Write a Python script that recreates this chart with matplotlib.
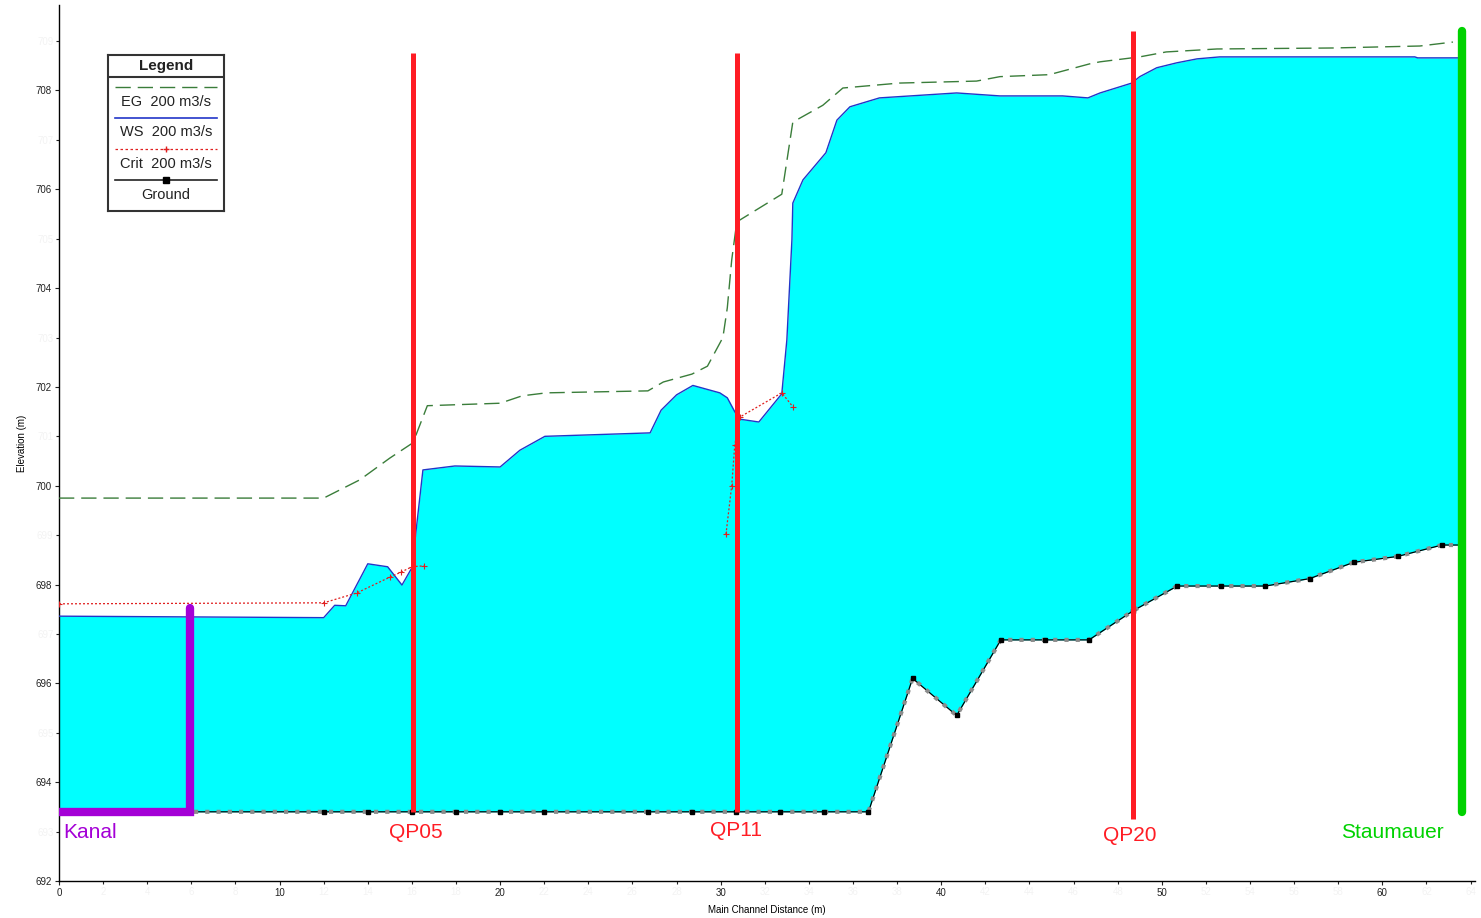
import numpy as np
import matplotlib
matplotlib.use("Agg")
import matplotlib.pyplot as plt
from matplotlib.ticker import MultipleLocator, FormatStrFormatter

plt.rcParams['font.family'] = ['Liberation Sans', 'DejaVu Sans']

# ---------------- data ----------------
ws_x = [0, 12.0, 12.5, 13.0, 14.0, 14.9, 15.55, 16.0, 16.5, 17.95, 20.0, 20.9, 22.03,
        26.8, 27.3, 28.0, 28.74, 29.96, 30.3, 30.6, 30.83, 31.73, 32.77, 33.0, 33.23,
        33.27, 33.73, 34.77, 35.27, 35.86, 37.2, 40.7, 42.66, 45.5, 46.65, 47.2, 48.64,
        49.0, 49.77, 50.68, 51.6, 52.63, 61.47, 61.6, 63.65]
ws_y = [697.36, 697.33, 697.58, 697.57, 698.42, 698.36, 697.99, 698.34, 700.32, 700.40,
        700.38, 700.72, 701.0, 701.07, 701.53, 701.84, 702.03, 701.88, 701.78, 701.53,
        701.35, 701.29, 701.86, 702.95, 704.98, 705.72, 706.19, 706.74, 707.40, 707.67,
        707.85, 707.95, 707.89, 707.89, 707.85, 707.95, 708.15, 708.28, 708.46, 708.56,
        708.64, 708.68, 708.68, 708.66, 708.66]

eg_x = [0, 12.0, 13.64, 15.0, 16.05, 16.7, 20.0, 21.0, 22.1, 26.7, 27.4, 28.7, 29.4,
        30.1, 30.3, 30.5, 30.73, 32.77, 33.27, 34.63, 35.54, 38.1, 41.6, 42.66, 44.9,
        46.74, 47.2, 49.0, 50.2, 52.5, 57.75, 61.7, 63.2]
eg_y = [699.75, 699.75, 700.12, 700.56, 700.87, 701.62, 701.67, 701.82, 701.88, 701.92,
        702.10, 702.26, 702.42, 703.0, 703.6, 704.57, 705.34, 705.9, 707.36, 707.7,
        708.05, 708.15, 708.19, 708.28, 708.32, 708.54, 708.58, 708.68, 708.78, 708.84,
        708.86, 708.90, 708.98]

crit_x = [0, 12.0, 13.5, 15.0, 15.5, 16.0, 16.55, np.nan, 30.24, 30.5, 30.64, 30.87, 32.77, 33.27]
crit_y = [697.61, 697.63, 697.83, 698.15, 698.25, 698.36, 698.38, np.nan, 699.02, 700.0,
          700.83, 701.39, 701.88, 701.6]

gr_x = [0, 12, 14, 16, 18, 20, 22, 26.7, 28.7, 30.7, 32.7, 34.7, 36.7, 38.7, 40.7, 42.7,
        44.7, 46.7, 48.7, 50.7, 52.7, 54.7, 56.7, 58.7, 60.7, 62.7, 63.65]
gr_y = [693.4, 693.4, 693.4, 693.4, 693.4, 693.4, 693.4, 693.4, 693.4, 693.4, 693.4,
        693.4, 693.4, 696.1, 695.35, 696.88, 696.88, 696.88, 697.47, 697.97, 697.97,
        697.97, 698.12, 698.45, 698.57, 698.8, 698.8]

section_names = ["QP05", "QP11", "QP20"]
section_x = [16.05, 30.73, 48.69]
section_top = [708.75, 708.75, 709.2]
section_bottom = [693.4, 693.4, 693.25]

kanal_x = [0, 5.95, 5.95]
kanal_y = [693.4, 693.4, 697.53]
wall_x = 63.6
wall_y = [693.4, 709.2]

# ---------------- figure ----------------
W, H = 1481, 918
fig = plt.figure(figsize=(W / 100, H / 100), dpi=100)
ax = fig.add_axes([59 / W, 37 / H, 1416 / W, 876 / H])
ax.set_xlim(0, 64.2)
ax.set_ylim(692, 709.73)

for s in ['top', 'right']:
    ax.spines[s].set_visible(False)
for s in ['left', 'bottom']:
    ax.spines[s].set_linewidth(1.0)

ax.xaxis.set_major_locator(MultipleLocator(10))
ax.xaxis.set_minor_locator(MultipleLocator(2))
ax.yaxis.set_major_locator(MultipleLocator(2))
ax.yaxis.set_minor_locator(MultipleLocator(1))
ax.yaxis.set_minor_formatter(FormatStrFormatter('%d'))
ax.xaxis.set_minor_formatter(FormatStrFormatter('%d'))
ax.tick_params(which='major', labelsize=7, length=3, width=0.8, colors='#222222', pad=2)
ax.tick_params(which='minor', labelsize=7, length=2, width=0.8, colors='#222222',
               labelcolor='#f3f3f3', pad=2)
ax.set_xlabel('Main Channel Distance (m)', fontsize=7, labelpad=5)
ax.set_ylabel('Elevation (m)', fontsize=7, labelpad=6)

# water fill between ground and water surface
fill_x = np.array(sorted(set(ws_x) | set(gr_x)))
ws_on = np.interp(fill_x, ws_x, ws_y)
gr_on = np.interp(fill_x, gr_x, gr_y)
ax.fill_between(fill_x, gr_on, ws_on, color='#00ffff', lw=0, zorder=1)

# ground
ax.plot(gr_x, gr_y, color='black', lw=0.9, zorder=3)
ax.plot(gr_x, gr_y, color='#8c8c8c', lw=3, dashes=(1.0, 1.7), solid_capstyle='butt',
        dash_capstyle='butt', zorder=3.5)
ax.plot(gr_x[1:-1], gr_y[1:-1], ls='none', marker='s', ms=3.5, color='black', zorder=4)

# water surface
ax.plot(ws_x, ws_y, color='#2236c8', lw=1.0, zorder=5)
# energy grade
ax.plot(eg_x, eg_y, color='#3a7d3a', lw=1.0, dashes=(11, 5), zorder=5)
# critical depth
ax.plot(crit_x, crit_y, color='#e02020', lw=0.9, dashes=(1.6, 1.6), marker='+', ms=4,
        mew=0.8, zorder=5)

# sections
for name, sx, st, sb in zip(section_names, section_x, section_top, section_bottom):
    ax.plot([sx, sx], [sb, st], color='#ff1c24', lw=3.6, solid_capstyle='butt', zorder=6)

ax.plot(kanal_x, kanal_y, color='#a400d6', lw=6, solid_capstyle='round',
        solid_joinstyle='miter', zorder=7)
ax.plot([wall_x, wall_x], wall_y, color='#00d200', lw=6, solid_capstyle='round', zorder=7)

ax.text(0.2, 692.98, 'Kanal', color='#a400d6', fontsize=15, ha='left', va='center', zorder=8)
ax.text(16.2, 692.98, 'QP05', color='#ff1c24', fontsize=15, ha='center', va='center', zorder=8)
ax.text(30.7, 693.02, 'QP11', color='#ff1c24', fontsize=15, ha='center', va='center', zorder=8)
ax.text(48.55, 692.92, 'QP20', color='#ff1c24', fontsize=15, ha='center', va='center', zorder=8)
ax.text(60.45, 692.98, 'Staumauer', color='#00d200', fontsize=15, ha='center', va='center', zorder=8)

# ---------------- legend box ----------------
lx0, ly0, lw_, lh_ = 108, 55, 116, 156
lax = fig.add_axes([lx0 / W, (H - ly0 - lh_) / H, lw_ / W, lh_ / H])
lax.set_xlim(0, lw_)
lax.set_ylim(lh_, 0)
lax.set_xticks([])
lax.set_yticks([])
for s in lax.spines.values():
    s.set_linewidth(1.5)
    s.set_color('#333333')
lax.axhline(22, color='#333333', lw=1.5)
lax.text(lw_ / 2, 11, 'Legend', ha='center', va='center', fontsize=11, fontweight='bold',
         color='#222222')
lx = [7, 109]
lax.plot(lx, [32, 32], color='#3a7d3a', lw=1.0, dashes=(11, 5))
lax.text(lw_ / 2, 47, 'EG  200 m3/s', ha='center', va='center', fontsize=10.5, color='#222222')
lax.plot(lx, [63, 63], color='#2236c8', lw=1.2)
lax.text(lw_ / 2, 77.5, 'WS  200 m3/s', ha='center', va='center', fontsize=10.5, color='#222222')
lax.plot(lx, [94, 94], color='#e02020', lw=0.9, dashes=(2, 2))
lax.plot([58], [94], marker='+', color='#e02020', ms=5, mew=1)
lax.text(lw_ / 2, 108.5, 'Crit  200 m3/s', ha='center', va='center', fontsize=10.5, color='#222222')
lax.plot(lx, [125, 125], color='#222222', lw=1.2)
lax.plot([58], [125], marker='s', color='black', ms=5)
lax.text(lw_ / 2, 140, 'Ground', ha='center', va='center', fontsize=10.5, color='#222222')

fig.savefig('out.png', dpi=100)
